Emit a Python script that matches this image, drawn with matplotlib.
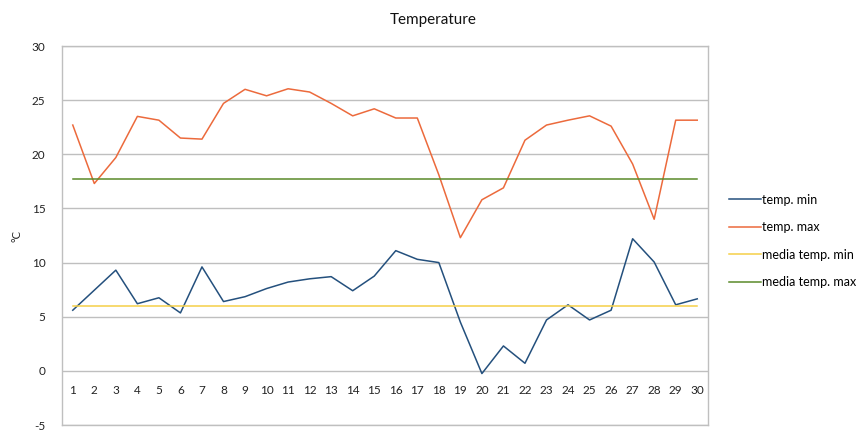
import matplotlib
matplotlib.use("Agg")
import matplotlib.pyplot as plt
import numpy as np

plt.rcParams['font.family'] = ['Lato', 'DejaVu Sans']
plt.rcParams['axes.unicode_minus'] = False

days = list(range(1, 31))
temp_min = [5.6, 7.45, 9.3, 6.2, 6.75, 5.35, 9.6, 6.4, 6.85, 7.6,
            8.2, 8.5, 8.7, 7.4, 8.75, 11.1, 10.3, 10.0, 4.5, -0.25,
            2.3, 0.7, 4.7, 6.1, 4.7, 5.6, 12.2, 10.05, 6.1, 6.65]
temp_max = [22.7, 17.3, 19.7, 23.5, 23.15, 21.5, 21.4, 24.7, 26.0, 25.4,
            26.05, 25.75, 24.7, 23.55, 24.2, 23.35, 23.35, 18.1, 12.3, 15.8,
            16.9, 21.3, 22.7, 23.15, 23.55, 22.6, 19.1, 14.0, 23.15, 23.15]
media_min = [6.0] * 30
media_max = [17.7] * 30
yticks = [-5, 0, 5, 10, 15, 20, 25, 30]

fig = plt.figure(figsize=(8.65, 4.4), dpi=100)
ax = fig.add_axes([62/865, 1-425/440, (708-62)/865, (425-46)/440])

grid_c = '#BFBFBF'
ax.set_xlim(0.5, 30.5)
ax.set_ylim(-5, 30)
ax.set_yticks(yticks)
ax.set_xticks([])
ax.yaxis.grid(True, color=grid_c, linewidth=1.0)
ax.set_axisbelow(True)
for s in ax.spines.values():
    s.set_color(grid_c)
    s.set_linewidth(1.0)
ax.tick_params(axis='y', length=0, pad=12, labelsize=8.5, labelcolor='#222222')

lw = 1.1
ax.plot(days, temp_min, color='#24507D', lw=lw, label='temp. min')
ax.plot(days, temp_max, color='#EC6A3C', lw=lw, label='temp. max')
ax.plot(days, media_min, color='#F5D048', lw=lw, label='media temp. min')
ax.plot(days, media_max, color='#5A8A2A', lw=lw, label='media temp. max')

for d in days:
    ax.annotate(str(d), xy=(d, 0), xytext=(0, -10), textcoords='offset points',
                ha='center', va='top', fontsize=8.5, color='#222222')

ax.set_ylabel('°C', fontsize=8, color='#222222')
ax.yaxis.set_label_coords((22-62)/646, (425-236)/379)
fig.text(433/865, 1-20/440, 'Temperature', ha='center', va='center', fontsize=11, color='#111111')

leg = ax.legend(loc='center left', bbox_to_anchor=(718/865, 1-241/440),
                bbox_transform=fig.transFigure, frameon=False, fontsize=9,
                handlelength=2.5, handletextpad=0.1, labelspacing=1.25)

fig.savefig('out.png', dpi=100)
